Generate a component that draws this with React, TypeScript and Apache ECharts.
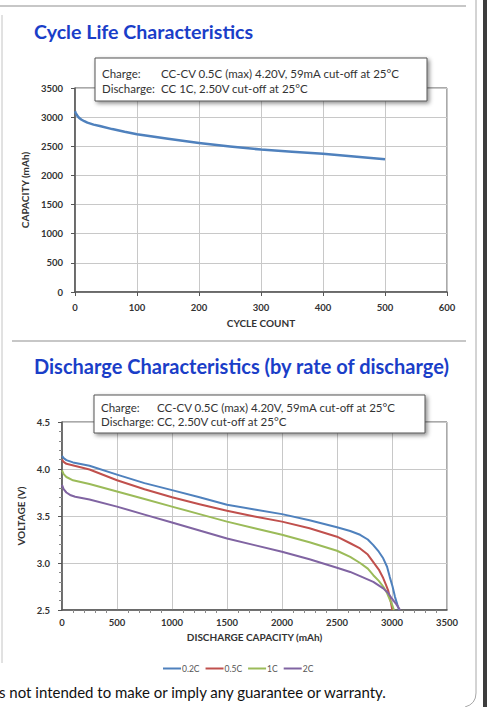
import React, { useEffect, useRef } from "react";
import * as echarts from "echarts";

// ---- Cycle life data ----
const cycleCounts = [0, 1, 3, 6, 10, 15, 20, 30, 40, 60, 80, 100, 150, 200, 250, 300, 350, 400, 450, 500];
const cycleCapacity = [3100, 3075, 3035, 2995, 2960, 2930, 2905, 2872, 2848, 2795, 2748, 2708, 2630, 2557, 2495, 2444, 2405, 2372, 2325, 2276];
const cycleXTicks = [0, 100, 200, 300, 400, 500, 600];
const cycleYTicks = [0, 500, 1000, 1500, 2000, 2500, 3000, 3500];

// ---- Discharge data: [capacity mAh, voltage V] ----
const rateNames = ["0.2C", "0.5C", "1C", "2C"];
const rateColors = ["#4F81BD", "#C0504D", "#9BBB59", "#8064A2"];
const discharge02C = [[0, 4.14], [15, 4.115], [40, 4.095], [100, 4.07], [250, 4.035], [500, 3.94], [750, 3.85], [1000, 3.775], [1250, 3.70], [1500, 3.62], [1750, 3.57], [2000, 3.52], [2250, 3.455], [2500, 3.38], [2620, 3.34], [2710, 3.30], [2780, 3.25], [2830, 3.19], [2880, 3.12], [2920, 3.05], [2955, 2.96], [2980, 2.85], [3005, 2.75], [3027, 2.64], [3048, 2.56], [3065, 2.5]];
const discharge05C = [[0, 4.10], [15, 4.075], [40, 4.055], [250, 3.995], [500, 3.88], [750, 3.785], [1000, 3.70], [1250, 3.625], [1500, 3.555], [1750, 3.495], [2000, 3.44], [2250, 3.37], [2500, 3.28], [2620, 3.21], [2710, 3.155], [2780, 3.09], [2830, 3.01], [2880, 2.93], [2920, 2.84], [2948, 2.76], [2967, 2.70], [2985, 2.61], [3003, 2.5]];
const discharge1C = [[0, 3.985], [15, 3.945], [40, 3.915], [100, 3.88], [250, 3.84], [500, 3.76], [750, 3.68], [1000, 3.60], [1250, 3.52], [1500, 3.44], [1750, 3.37], [2000, 3.30], [2250, 3.22], [2500, 3.13], [2620, 3.065], [2710, 3.00], [2780, 2.94], [2830, 2.87], [2880, 2.81], [2920, 2.75], [2955, 2.68], [2980, 2.61], [3000, 2.56], [3018, 2.5]];
const discharge2C = [[0, 3.83], [15, 3.785], [40, 3.75], [80, 3.72], [120, 3.705], [250, 3.675], [500, 3.60], [750, 3.515], [1000, 3.43], [1250, 3.345], [1500, 3.26], [1750, 3.19], [2000, 3.12], [2250, 3.04], [2500, 2.95], [2620, 2.905], [2710, 2.86], [2830, 2.80], [2920, 2.73], [2965, 2.68], [3000, 2.62], [3040, 2.56], [3073, 2.5]];
const dischargeSets = [discharge02C, discharge05C, discharge1C, discharge2C];
const dischargeXTicks = [0, 500, 1000, 1500, 2000, 2500, 3000, 3500];
const dischargeYTicks = [2.5, 3.0, 3.5, 4.0, 4.5];

const titleTop = "Cycle Life Characteristics";
const titleBottom = "Discharge Characteristics (by rate of discharge)";
const noteTop = [["Charge:", "CC-CV 0.5C (max) 4.20V, 59mA cut-off at 25°C"], ["Discharge:", "CC 1C, 2.50V cut-off at 25°C"]];
const noteBottom = [["Charge:", "CC-CV 0.5C (max) 4.20V, 59mA cut-off at 25°C"], ["Discharge:", "CC, 2.50V cut-off at 25°C"]];
const footer = "s not intended to make or imply any guarantee or warranty.";

const FONT = "Lato, 'Open Sans', sans-serif";

export default function App() {
  const ref = useRef<HTMLDivElement>(null);
  useEffect(() => {
    if (!ref.current) return;
    const chart = echarts.init(ref.current, null, { renderer: "svg" });
    const axisLabel = { fontFamily: FONT, fontWeight: "bold", fontSize: 9.5, color: "#333" };
    const axisName = { fontFamily: FONT, fontWeight: "bold", fontSize: 10, color: "#333" };
    const noteGraphic = (x: number, y: number, w: number, h: number, lines: string[][], valX: number, lineYs: number[]) => [
      {
        type: "rect", shape: { x, y, width: w, height: h },
        style: { fill: "#fff", stroke: "#555", lineWidth: 1, shadowBlur: 4, shadowOffsetX: 2, shadowOffsetY: 2, shadowColor: "rgba(0,0,0,0.45)" },
        z: 100,
      },
      ...lines.flatMap((l, i) => [
        { type: "text", x: x + 7, y: lineYs[i], style: { text: l[0], font: `11.5px ${FONT}`, fill: "#333", verticalAlign: "middle" }, z: 101 },
        { type: "text", x: valX, y: lineYs[i], style: { text: l[1], font: `11.5px ${FONT}`, fill: "#333", verticalAlign: "middle" }, z: 101 },
      ]),
    ];
    const plain = (v: number) => String(v);
    const option: any = {
      animation: false,
      backgroundColor: "#fff",
      grid: [
        { left: 75, top: 88, width: 372, height: 204, show: true, borderColor: "#555", borderWidth: 1, backgroundColor: "#fff" },
        { left: 62, top: 422, width: 385, height: 188, show: true, borderColor: "#555", borderWidth: 1, backgroundColor: "#fff" },
      ],
      xAxis: [
        {
          gridIndex: 0, type: "value", min: cycleXTicks[0], max: cycleXTicks[cycleXTicks.length - 1], interval: 100,
          axisLine: { show: true, lineStyle: { color: "#555", width: 1.5 } },
          axisTick: { show: true, length: 4, lineStyle: { color: "#555" } },
          axisLabel: { ...axisLabel, margin: 10, formatter: plain },
          splitLine: { show: true, lineStyle: { color: "#c8c8c8", width: 1 } },
          name: "CYCLE COUNT", nameLocation: "middle", nameGap: 26, nameTextStyle: axisName,
        },
        {
          gridIndex: 1, type: "value", min: dischargeXTicks[0], max: dischargeXTicks[dischargeXTicks.length - 1], interval: 500,
          axisLine: { show: true, lineStyle: { color: "#555", width: 1.5 } },
          axisTick: { show: false },
          minorTick: { show: true, splitNumber: 5, length: 3, lineStyle: { color: "#888" } },
          axisLabel: { ...axisLabel, margin: 7, formatter: plain },
          splitLine: { show: true, lineStyle: { color: "#c8c8c8", width: 1 } },
          name: "DISCHARGE CAPACITY (mAh)", nameLocation: "middle", nameGap: 22, nameTextStyle: axisName,
        },
      ],
      yAxis: [
        {
          gridIndex: 0, type: "value", min: cycleYTicks[0], max: cycleYTicks[cycleYTicks.length - 1], interval: 500,
          axisLine: { show: true, lineStyle: { color: "#555", width: 1.5 } },
          axisTick: { show: true, length: 4, lineStyle: { color: "#555" } },
          axisLabel: { ...axisLabel, margin: 12, formatter: plain },
          splitLine: { show: true, lineStyle: { color: "#c8c8c8", width: 1 } },
          name: "CAPACITY (mAh)", nameLocation: "middle", nameGap: 42, nameTextStyle: axisName,
        },
        {
          gridIndex: 1, type: "value", min: dischargeYTicks[0], max: dischargeYTicks[dischargeYTicks.length - 1], interval: 0.5,
          axisLine: { show: true, lineStyle: { color: "#555", width: 1.5 } },
          axisTick: { show: true, length: 4, lineStyle: { color: "#555" } },
          minorTick: { show: true, splitNumber: 5, length: 3, lineStyle: { color: "#888" } },
          axisLabel: { ...axisLabel, margin: 12, formatter: (v: number) => v.toFixed(1) },
          splitLine: { show: true, lineStyle: { color: "#c8c8c8", width: 1 } },
          name: "VOLTAGE (V)", nameLocation: "middle", nameGap: 29, nameTextStyle: axisName,
        },
      ],
      legend: {
        data: rateNames, left: 158, top: 659, itemWidth: 18, itemHeight: 2, itemGap: 6, icon: "rect",
        textStyle: { fontFamily: FONT, fontSize: 8.5, color: "#555", padding: [0, 0, 0, -4] },
      },
      series: [
        {
          type: "line", xAxisIndex: 0, yAxisIndex: 0, symbol: "none", smooth: false,
          data: cycleCounts.map((c, i) => [c, cycleCapacity[i]]),
          lineStyle: { color: "#4F81BD", width: 2.5, join: "round" }, itemStyle: { color: "#4F81BD" },
        },
        ...dischargeSets.map((d, i) => ({
          type: "line", name: rateNames[i], xAxisIndex: 1, yAxisIndex: 1, symbol: "none", smooth: false,
          data: d, lineStyle: { color: rateColors[i], width: 2, join: "round" }, itemStyle: { color: rateColors[i] },
        })),
      ],
      graphic: [
        { type: "rect", shape: { x: 483, y: 0, width: 4, height: 707 }, style: { fill: "#3d3d3d" } },
        { type: "line", shape: { x1: 0, y1: 6, x2: 466, y2: 6 }, style: { stroke: "#b4b4b4", lineWidth: 1.5 } },
        { type: "line", shape: { x1: 2, y1: 15, x2: 2, y2: 663 }, style: { stroke: "#c4c4c4", lineWidth: 1 } },
        { type: "line", shape: { x1: 12, y1: 341, x2: 466, y2: 341 }, style: { stroke: "#b4b4b4", lineWidth: 1.5 } },
        { type: "line", shape: { x1: 476, y1: 0, x2: 476, y2: 693 }, style: { stroke: "#a8a8a8", lineWidth: 1 } },
        { type: "bezierCurve", shape: { x1: 476, y1: 693, cpx1: 476, cpy1: 704, x2: 465, y2: 707 }, style: { stroke: "#a8a8a8", lineWidth: 1, fill: "none" } },
        { type: "text", x: 34, y: 31, style: { text: titleTop, font: `bold 19.6px ${FONT}`, fill: "#1a3ec8", verticalAlign: "middle" } },
        { type: "text", x: 34, y: 366, style: { text: titleBottom, font: `bold 20px ${FONT}`, fill: "#1a3ec8", verticalAlign: "middle" } },
        ...noteGraphic(95, 58, 332, 43, noteTop, 161, [73, 88]),
        ...noteGraphic(94, 395, 331, 38, noteBottom, 157, [407.5, 421.5]),
        { type: "text", x: -1, y: 692, style: { text: footer, font: `15px ${FONT}`, fill: "#111", verticalAlign: "middle" } },
      ],
    };
    chart.setOption(option);
    return () => chart.dispose();
  }, []);
  return <div ref={ref} style={{ position: "absolute", left: 0, top: 0, width: 487, height: 707 }} />;
}
